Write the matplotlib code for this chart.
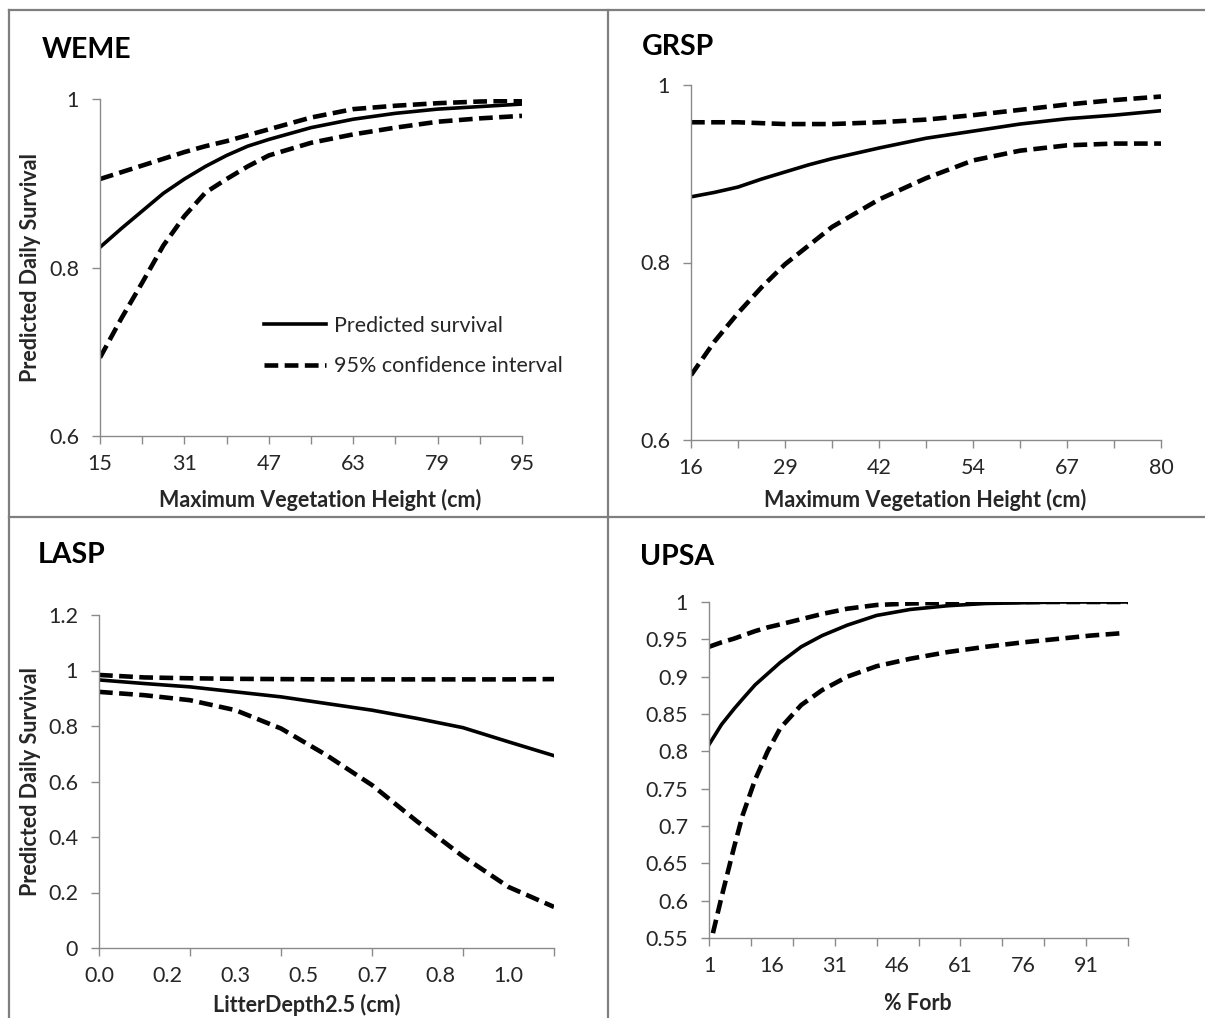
import numpy as np
import matplotlib
matplotlib.use("Agg")
import matplotlib.pyplot as plt
from matplotlib.lines import Line2D
from matplotlib.ticker import FixedLocator, NullFormatter

plt.rcParams['font.family'] = ['Lato', 'DejaVu Sans']

# ---------------- data ----------------
weme_x = [15, 19, 23, 27, 31, 35, 39, 43, 47, 55, 63, 71, 79, 87, 95]
weme_pred = [0.824, 0.846, 0.867, 0.888, 0.905, 0.920, 0.933, 0.944, 0.952, 0.966, 0.976, 0.983, 0.988, 0.991, 0.994]
weme_upper = [0.905, 0.913, 0.921, 0.929, 0.937, 0.944, 0.950, 0.957, 0.964, 0.978, 0.988, 0.992, 0.995, 0.997, 0.998]
weme_lower = [0.693, 0.739, 0.782, 0.826, 0.861, 0.889, 0.905, 0.920, 0.933, 0.948, 0.958, 0.966, 0.973, 0.977, 0.980]
weme_tick_labels = ['15', '31', '47', '63', '79', '95']

grsp_x = [16, 19.2, 22.4, 25.6, 28.8, 32, 35.2, 41.6, 48, 54.4, 60.8, 67.2, 73.6, 80]
grsp_pred = [0.874, 0.879, 0.885, 0.894, 0.902, 0.910, 0.917, 0.929, 0.940, 0.948, 0.956, 0.962, 0.966, 0.971]
grsp_upper = [0.958, 0.958, 0.958, 0.957, 0.956, 0.956, 0.956, 0.958, 0.961, 0.966, 0.972, 0.978, 0.983, 0.987]
grsp_lower = [0.673, 0.711, 0.743, 0.772, 0.798, 0.819, 0.840, 0.871, 0.895, 0.915, 0.926, 0.932, 0.934, 0.934]
grsp_tick_labels = ['16', '29', '42', '54', '67', '80']

lasp_x = [0, 0.11, 0.22, 0.33, 0.44, 0.55, 0.66, 0.77, 0.88, 0.99, 1.1]
lasp_pred = [0.966, 0.953, 0.941, 0.923, 0.905, 0.881, 0.857, 0.827, 0.794, 0.743, 0.693]
lasp_upper = [0.984, 0.975, 0.972, 0.970, 0.969, 0.968, 0.968, 0.968, 0.968, 0.968, 0.969]
lasp_lower = [0.923, 0.911, 0.893, 0.857, 0.791, 0.695, 0.587, 0.455, 0.330, 0.220, 0.148]
lasp_tick_labels = ['0.0', '0.2', '0.3', '0.5', '0.7', '0.8', '1.0']

upsa_x = [1, 2, 4, 7, 9, 12, 15, 18, 23, 28, 34, 41, 49, 58, 67, 76, 85, 92, 99, 101]
upsa_pred = [0.809, 0.818, 0.836, 0.857, 0.870, 0.889, 0.904, 0.919, 0.940, 0.955, 0.969, 0.982, 0.990,
             0.995, 0.998, 0.999, 1.0, 1.0, 1.0, 1.0]
upsa_upper = [0.940, 0.942, 0.946, 0.951, 0.955, 0.961, 0.966, 0.970, 0.977, 0.984, 0.991, 0.996, 0.998,
              0.999, 1.0, 1.0, 1.0, 1.0, 1.0, 1.0]
upsa_lower = [0.53, 0.558, 0.605, 0.672, 0.714, 0.762, 0.800, 0.831, 0.862, 0.882, 0.900, 0.914, 0.924,
              0.933, 0.940, 0.946, 0.951, 0.955, 0.958, np.nan]
upsa_tick_labels = ['1', '16', '31', '46', '61', '76', '91']

# ---------------- layout ----------------
W, H = 1205, 1018
fig = plt.figure(figsize=(W / 100, H / 100), dpi=100)
fig.patch.set_facecolor('white')

def rect(l, r, t, b):
    return [l / W, 1 - b / H, (r - l) / W, (b - t) / H]

GRAY = '#8a8a8a'
TXT = '#262626'
TICK_FS = 15.5
LABEL_FS = 15.5
TITLE_FS = 20.5

# panel borders
for (x0, y0, x1, y1) in [(9, 10, W, 10), (9, 10, 9, H), (608, 10, 608, H), (9, 517, W, 517)]:
    fig.add_artist(Line2D([x0 / W, x1 / W], [1 - y0 / H, 1 - y1 / H], transform=fig.transFigure,
                          color='#7f7f7f', lw=1.6))

def style(ax, xlim, ylim, label_pos, label_txt, mark_pos, yticks, ylabels):
    ax.set_xlim(*xlim)
    ax.set_ylim(*ylim)
    for s in ['top', 'right']:
        ax.spines[s].set_visible(False)
    for s in ['left', 'bottom']:
        ax.spines[s].set_color(GRAY)
        ax.spines[s].set_linewidth(1.0)
    ax.xaxis.remove_overlapping_locs = False
    ax.xaxis.set_major_locator(FixedLocator(label_pos))
    ax.set_xticklabels(label_txt)
    ax.xaxis.set_minor_locator(FixedLocator(mark_pos))
    ax.xaxis.set_minor_formatter(NullFormatter())
    ax.tick_params(axis='x', which='major', length=0, pad=13, labelsize=TICK_FS, labelcolor=TXT)
    ax.tick_params(axis='x', which='minor', length=6, width=1.0, color=GRAY, direction='out')
    ax.set_yticks(yticks)
    ax.set_yticklabels(ylabels)
    ax.tick_params(axis='y', which='major', length=6, width=1.0, color=GRAY, direction='out',
                   pad=9, labelsize=TICK_FS, labelcolor=TXT)
    ax.set_facecolor('none')

def draw(ax, x, pred, up, lo):
    dash = (0, (3.0, 1.4))
    l2, = ax.plot(x, up, color='black', lw=3.3, linestyle=dash,
                  label='95% confidence interval', clip_on=True)
    ax.plot(x, lo, color='black', lw=3.3, linestyle=dash, clip_on=True)
    l1, = ax.plot(x, pred, color='black', lw=2.6, label='Predicted survival', clip_on=True)
    return l1, l2

# ---- WEME ----
ax1 = fig.add_axes(rect(100, 522, 99, 436))
l1, l2 = draw(ax1, weme_x, weme_pred, weme_upper, weme_lower)
style(ax1, (15, 95), (0.6, 1.0), [15, 31, 47, 63, 79, 95], weme_tick_labels,
      np.arange(15, 96, 8), [0.6, 0.8, 1.0], ['0.6', '0.8', '1'])
ax1.set_xlabel('Maximum Vegetation Height (cm)', fontsize=LABEL_FS, fontweight='bold', color=TXT)
ax1.xaxis.set_label_coords((320 - 100) / 422, (436 - 500) / 337)
ax1.xaxis.label.set_va('center')
ax1.set_ylabel('Predicted Daily Survival', fontsize=LABEL_FS, fontweight='bold', color=TXT)
ax1.yaxis.set_label_coords((31 - 100) / 422, 0.5)
ax1.yaxis.label.set_va('center')
fig.text(42 / W, 1 - 50 / H, 'WEME', fontsize=TITLE_FS, fontweight='bold', color='black',
         ha='left', va='center')
leg = ax1.legend(handles=[l1, l2], loc='upper left', bbox_to_anchor=(264 / W, 1 - 316 / H),
                 bbox_transform=fig.transFigure, frameon=False, fontsize=15.5, handlelength=2.9,
                 handletextpad=0.35, labelspacing=0.95, borderpad=0, borderaxespad=0)
for t in leg.get_texts():
    t.set_color(TXT)

# ---- GRSP ----
ax2 = fig.add_axes(rect(691, 1161, 85, 440))
draw(ax2, grsp_x, grsp_pred, grsp_upper, grsp_lower)
gt = list(np.linspace(16, 80, 11))
style(ax2, (16, 80), (0.6, 1.0), gt[::2], grsp_tick_labels, gt, [0.6, 0.8, 1.0], ['0.6', '0.8', '1'])
ax2.set_xlabel('Maximum Vegetation Height (cm)', fontsize=LABEL_FS, fontweight='bold', color=TXT)
ax2.xaxis.set_label_coords((925 - 691) / 470, (440 - 500) / 355)
ax2.xaxis.label.set_va('center')
fig.text(642 / W, 1 - 47 / H, 'GRSP', fontsize=TITLE_FS, fontweight='bold', color='black',
         ha='left', va='center')

# ---- LASP ----
ax3 = fig.add_axes(rect(99, 554, 615, 948))
draw(ax3, lasp_x, lasp_pred, lasp_upper, lasp_lower)
lp = [0, 0.165, 0.33, 0.495, 0.66, 0.825, 0.99]
style(ax3, (0, 1.1), (0, 1.2), lp, lasp_tick_labels, [0, 0.22, 0.44, 0.66, 0.88, 1.1],
      [0, 0.2, 0.4, 0.6, 0.8, 1.0, 1.2], ['0', '0.2', '0.4', '0.6', '0.8', '1', '1.2'])
ax3.set_xlabel('LitterDepth2.5 (cm)', fontsize=LABEL_FS, fontweight='bold', color=TXT)
ax3.xaxis.set_label_coords((307 - 99) / 455, (948 - 1005) / 333)
ax3.xaxis.label.set_va('center')
ax3.set_ylabel('Predicted Daily Survival', fontsize=LABEL_FS, fontweight='bold', color=TXT)
ax3.yaxis.set_label_coords((31 - 99) / 455, 0.5)
ax3.yaxis.label.set_va('center')
fig.text(38 / W, 1 - 555 / H, 'LASP', fontsize=TITLE_FS, fontweight='bold', color='black',
         ha='left', va='center')

# ---- UPSA ----
ax4 = fig.add_axes(rect(709, 1128, 602, 938))
draw(ax4, upsa_x, upsa_pred, upsa_upper, upsa_lower)
uy = [0.55, 0.6, 0.65, 0.7, 0.75, 0.8, 0.85, 0.9, 0.95, 1.0]
style(ax4, (1, 101), (0.55, 1.0), [1, 16, 31, 46, 61, 76, 91], upsa_tick_labels,
      list(range(1, 102, 10)), uy,
      ['0.55', '0.6', '0.65', '0.7', '0.75', '0.8', '0.85', '0.9', '0.95', '1'])
ax4.set_xlabel('% Forb', fontsize=LABEL_FS, fontweight='bold', color=TXT)
ax4.xaxis.set_label_coords((918 - 709) / 419, (938 - 1003) / 336)
ax4.xaxis.label.set_va('center')
fig.text(640 / W, 1 - 557 / H, 'UPSA', fontsize=TITLE_FS, fontweight='bold', color='black',
         ha='left', va='center')

fig.savefig('out.png', dpi=100, facecolor='white')
